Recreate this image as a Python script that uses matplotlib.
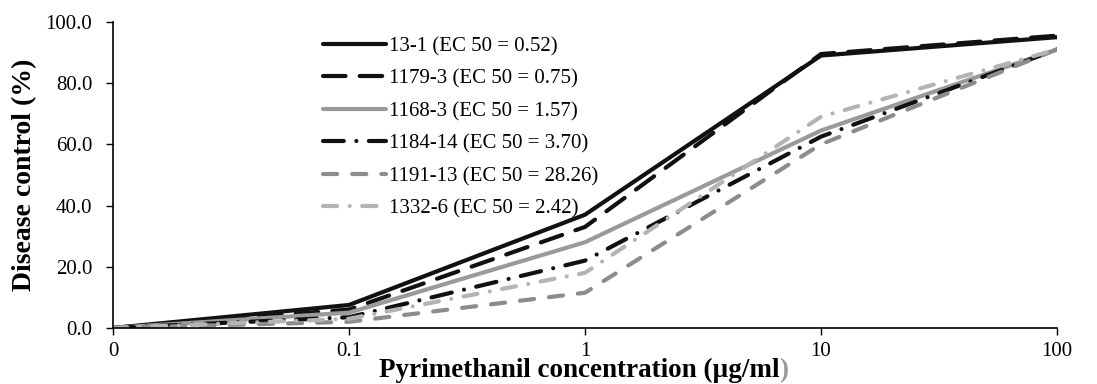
import matplotlib
matplotlib.use("Agg")
import matplotlib.pyplot as plt
import numpy as np

plt.rcParams['font.family'] = ['Liberation Serif', 'DejaVu Serif']

# data
conc_labels = ['0', '0.1', '1', '10', '100']
iso_13_1 = [0.0, 7.5, 37.0, 89.0, 95.0]
iso_1179_3 = [0.0, 6.0, 33.0, 89.5, 95.5]
iso_1168_3 = [0.0, 5.0, 28.0, 64.5, 91.0]
iso_1184_14 = [0.0, 3.5, 22.0, 62.5, 91.0]
iso_1191_13 = [0.0, 2.0, 11.5, 60.0, 91.0]
iso_1332_6 = [0.0, 3.0, 18.0, 69.0, 91.0]
labels = ['13-1 (EC 50 = 0.52)', '1179-3 (EC 50 = 0.75)', '1168-3 (EC 50 = 1.57)',
          '1184-14 (EC 50 = 3.70)', '1191-13 (EC 50 = 28.26)', '1332-6 (EC 50 = 2.42)']

series = [iso_13_1, iso_1179_3, iso_1168_3, iso_1184_14, iso_1191_13, iso_1332_6]
colors = ['#111111', '#111111', '#9a9a9a', '#111111', '#8c8c8c', '#b4b4b4']
styles = ['-', (0, (5.4, 3.4)), '-', (0, (5.0, 3.0, 0.01, 3.0)),
          (0, (3.4, 3.6)), (0, (3.4, 3.0, 0.01, 3.0))]

fig = plt.figure(figsize=(10.97, 3.84), dpi=100)
ax = fig.add_axes([0.103, 0.146, 0.8605, 0.797])

x = np.arange(len(conc_labels))
for vals, c, ls, lab in zip(series, colors, styles, labels):
    ax.plot(x, vals, color=c, linestyle=ls, linewidth=3, label=lab,
            dash_capstyle='round', solid_capstyle='round')

ax.set_xlim(0, 4)
ax.set_ylim(0, 100)
ax.set_xticks(x)
ax.set_xticklabels(conc_labels)
ax.set_yticks(np.arange(0, 101, 20))
ax.set_yticklabels(['%.1f' % v for v in np.arange(0, 101, 20)])
ax.tick_params(axis='both', labelsize=15, length=5, width=1, direction='out')
ax.tick_params(axis='y', pad=10)
ax.tick_params(axis='x', pad=5)
for s in ['top', 'right']:
    ax.spines[s].set_visible(False)
for s in ['left', 'bottom']:
    ax.spines[s].set_linewidth(1.2)

ax.set_ylabel('Disease control (%)', fontsize=20, fontweight='bold')
ax.yaxis.set_label_coords(-0.0805, 0.5)

# x label, last bracket is grey in the original
xl = fig.text(0.528, 0.019, 'Pyrimethanil concentration (\u00b5g/ml', fontsize=19.5,
              fontweight='bold', ha='center', va='baseline')
fig.canvas.draw()
bb = xl.get_window_extent()
fig.text(bb.x1 / fig.bbox.width, 0.019, ')', fontsize=19.5, fontweight='bold',
         color='#9a9a9a', ha='left', va='baseline')

ax.legend(loc='upper left', bbox_to_anchor=(0.2137, 0.979), frameon=False, fontsize=15,
          handlelength=3.0, handletextpad=0.15, labelspacing=0.62, borderaxespad=0.0)

plt.savefig('out.png', dpi=100)
